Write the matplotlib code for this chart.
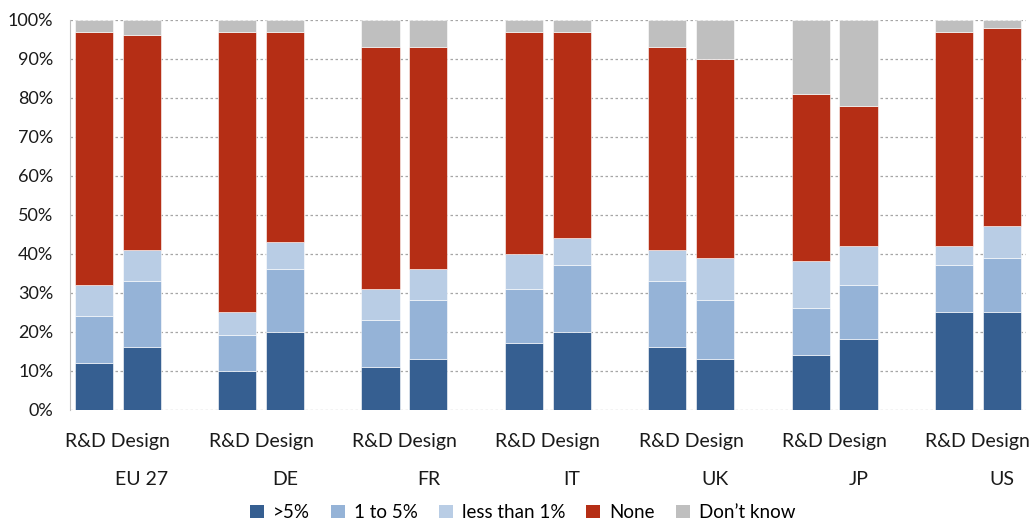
import numpy as np
import matplotlib.pyplot as plt
from matplotlib.patches import Patch

plt.rcParams['font.family'] = ['Lato', 'DejaVu Sans']

countries = ['EU 27', 'DE', 'FR', 'IT', 'UK', 'JP', 'US']
functions = ['R&D', 'Design']
shares = ['>5%', '1 to 5%', 'less than 1%', 'None', 'Don\u2019t know']
colors = ['#365F91', '#95B3D7', '#B9CDE5', '#B52E15', '#BFBFBF']

# per country: [R&D, Design], each in the order of `shares`
over5 = [[12, 16], [10, 20], [11, 13], [17, 20], [16, 13], [14, 18], [25, 25]]
one_to5 = [[12, 17], [9, 16], [12, 15], [14, 17], [17, 15], [12, 14], [12, 14]]
under1 = [[8, 8], [6, 7], [8, 8], [9, 7], [8, 11], [12, 10], [5, 8]]
none = [[65, 55], [72, 54], [62, 57], [57, 53], [52, 51], [43, 36], [55, 51]]
dont_know = [[3, 4], [3, 3], [7, 7], [3, 3], [7, 10], [19, 22], [3, 2]]

layers = [np.array(v, dtype=float).ravel() for v in
          (over5, one_to5, under1, none, dont_know)]

# two bars per country, one empty slot between countries
pos = np.array([[3 * i, 3 * i + 1] for i in range(len(countries))]).ravel()

fig = plt.figure(figsize=(10.35, 5.23), dpi=100)
ax = fig.add_axes([0.0676, 0.217, 0.9234, 0.745])

bottom = np.zeros(len(pos))
for vals, col in zip(layers, colors):
    ax.bar(pos, vals, bottom=bottom, width=0.8, color=col,
           edgecolor='white', linewidth=0.4, zorder=3)
    bottom += vals

ax.set_xlim(-0.5, 3 * len(countries) - 1.5)
ax.set_ylim(0, 100)
ax.set_yticks(np.arange(0, 101, 10))
ax.set_yticklabels([f'{v}%' for v in range(0, 101, 10)], fontsize=13,
                   color='#1a1a1a')
ax.yaxis.grid(True, linestyle=(0, (2, 2)), color='#A6A6A6', linewidth=0.9,
              zorder=0)
ax.tick_params(axis='y', length=0, pad=12)
ax.tick_params(axis='x', length=0)

for side in ('top', 'right', 'bottom'):
    ax.spines[side].set_visible(False)
ax.spines['left'].set_color('#BFBFBF')

ax.set_xticks([3 * i + 0.5 for i in range(len(countries))])
ax.set_xticklabels([' '.join(functions)] * len(countries), fontsize=14,
                   color='#1a1a1a')
ax.tick_params(axis='x', pad=17)

for i, c in enumerate(countries):
    ax.text(3 * i + 1, -0.18, c, transform=ax.get_xaxis_transform(),
            ha='center', va='center', fontsize=14, color='#1a1a1a')

handles = [Patch(facecolor=col, label=lab) for col, lab in zip(colors, shares)]
fig.legend(handles=handles, loc='center', bbox_to_anchor=(0.505, 0.02),
           ncol=5, frameon=False, fontsize=13.5, handlelength=0.75,
           handleheight=0.75, handletextpad=0.5, columnspacing=1.1)

fig.savefig('out.png', dpi=100)
